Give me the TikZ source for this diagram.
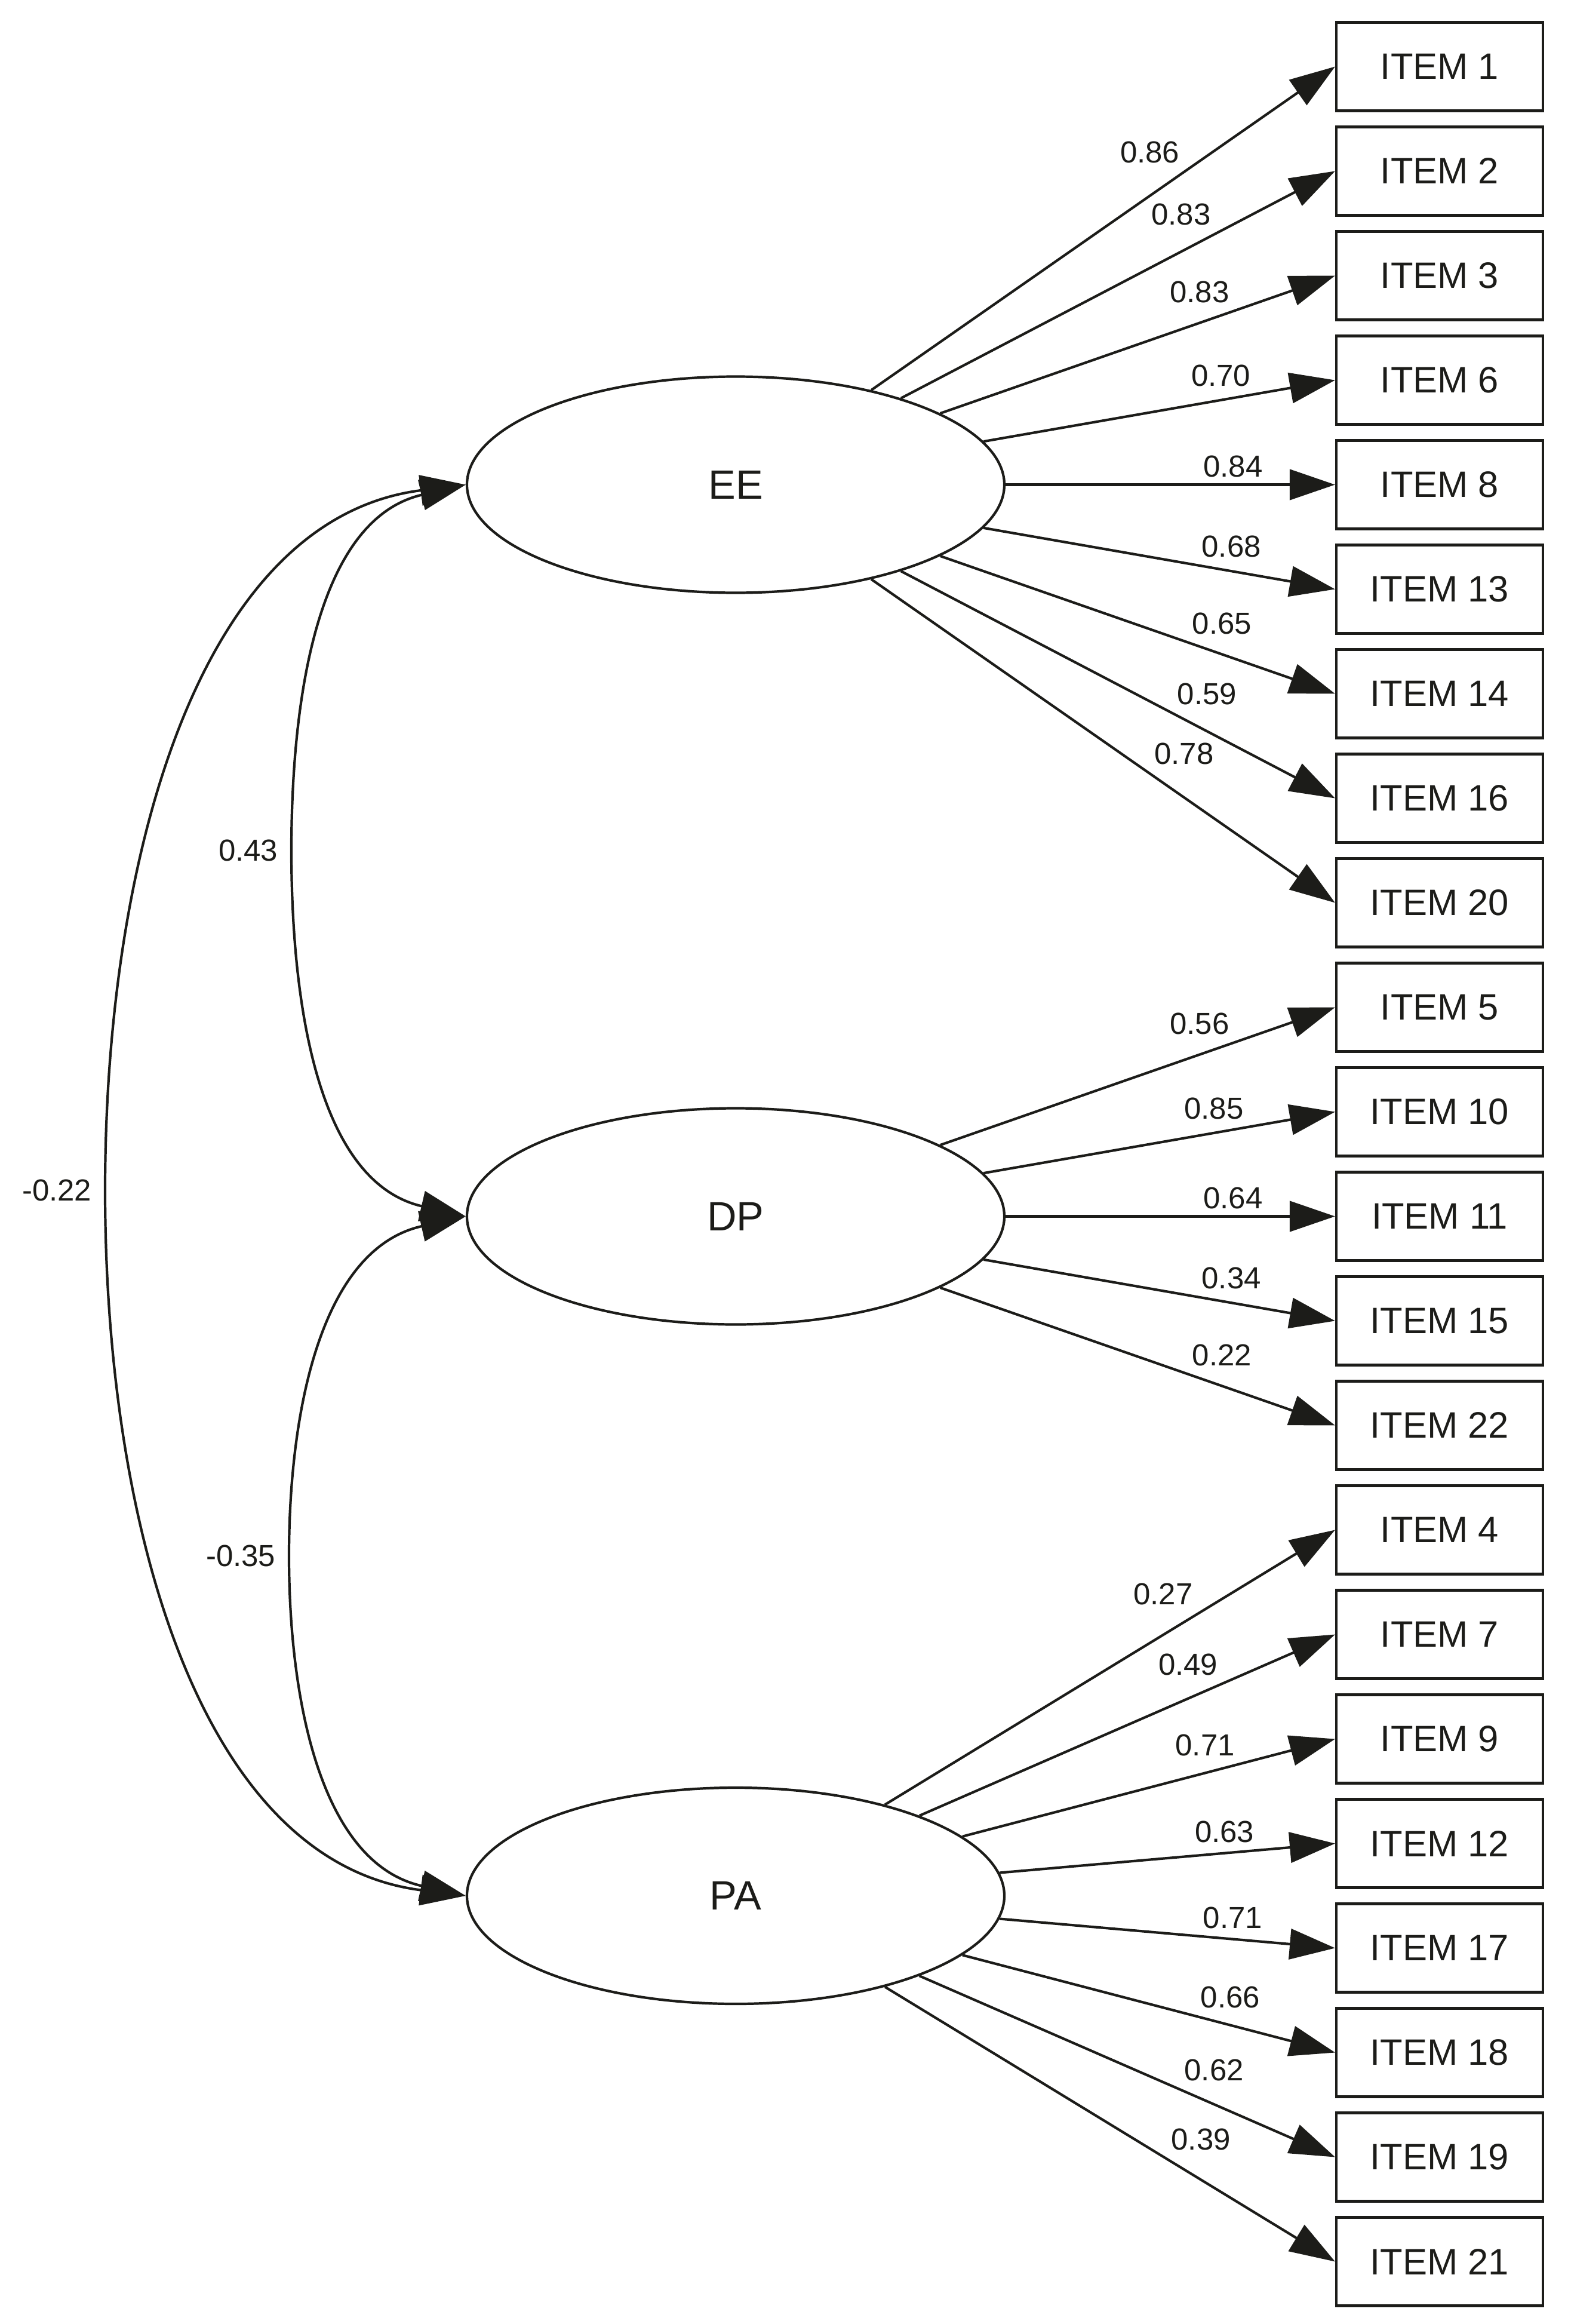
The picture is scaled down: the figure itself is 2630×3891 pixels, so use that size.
\documentclass[tikz,border=0pt]{standalone}
\usepackage{fontspec}
\setmainfont{Liberation Sans}
\usetikzlibrary{arrows.meta,shapes.geometric}
\definecolor{ink}{RGB}{28,28,25}
\tikzset{
  factor/.style={draw=ink, ellipse, line width=1.2pt, minimum width=90mm, minimum height=36.2mm, inner sep=0pt, text=ink, font=\fontsize{19.5}{22}\selectfont},
  item/.style={draw=ink, rectangle, line width=1.2pt, minimum width=34.6mm, minimum height=14.8mm, text=ink, font=\fontsize{17.5}{20}\selectfont},
  load/.style={draw=ink, line width=1.2pt, -{Triangle[length=7.6mm,width=5.1mm]}},
  cov/.style={draw=ink, line width=1.2pt, {Triangle[length=7.6mm,width=5.1mm]}-{Triangle[length=7.6mm,width=5.1mm]}},
  lbl/.style={text=ink, inner sep=1mm, font=\fontsize{14.5}{16}\selectfont},
  lu/.style={lbl, pos=0.71, anchor=south east},
  ld/.style={lbl, pos=0.62, anchor=south west},
  lh/.style={lbl, pos=0.69, anchor=south},
}
\begin{document}
\begin{tikzpicture}[x=0.1mm, y=-0.1mm]
    \useasboundingbox (0,0) rectangle (2630,3891);
    % factors
    \node[factor] (EE) at (1232,811.5) {EE};
    \node[factor] (DP) at (1232,2036.5) {DP};
    \node[factor] (PA) at (1232,3174) {PA};
    % items
    \node[item] (i1) at (2411,111.5) {ITEM 1};
    \node[item] (i2) at (2411,286.5) {ITEM 2};
    \node[item] (i3) at (2411,461.5) {ITEM 3};
    \node[item] (i6) at (2411,636.5) {ITEM 6};
    \node[item] (i8) at (2411,811.5) {ITEM 8};
    \node[item] (i13) at (2411,986.5) {ITEM 13};
    \node[item] (i14) at (2411,1161.5) {ITEM 14};
    \node[item] (i16) at (2411,1336.5) {ITEM 16};
    \node[item] (i20) at (2411,1511.5) {ITEM 20};
    \node[item] (i5) at (2411,1686.5) {ITEM 5};
    \node[item] (i10) at (2411,1861.5) {ITEM 10};
    \node[item] (i11) at (2411,2036.5) {ITEM 11};
    \node[item] (i15) at (2411,2211.5) {ITEM 15};
    \node[item] (i22) at (2411,2386.5) {ITEM 22};
    \node[item] (i4) at (2411,2561.5) {ITEM 4};
    \node[item] (i7) at (2411,2736.5) {ITEM 7};
    \node[item] (i9) at (2411,2911.5) {ITEM 9};
    \node[item] (i12) at (2411,3086.5) {ITEM 12};
    \node[item] (i17) at (2411,3261.5) {ITEM 17};
    \node[item] (i18) at (2411,3436.5) {ITEM 18};
    \node[item] (i19) at (2411,3611.5) {ITEM 19};
    \node[item] (i21) at (2411,3786.5) {ITEM 21};
    % loadings
    \draw[load] (EE) -- (i1.west) node[lu, pos=0.68] {0.86};
    \draw[load] (EE) -- (i2.west) node[lu, pos=0.73] {0.83};
    \draw[load] (EE) -- (i3.west) node[lu, pos=0.75] {0.83};
    \draw[load] (EE) -- (i6.west) node[lu, pos=0.78] {0.70};
    \draw[load] (EE) -- (i8.west) node[lh] {0.84};
    \draw[load] (EE) -- (i13.west) node[ld, pos=0.60] {0.68};
    \draw[load] (EE) -- (i14.west) node[ld] {0.65};
    \draw[load] (EE) -- (i16.west) node[ld] {0.59};
    \draw[load] (EE) -- (i20.west) node[ld, pos=0.595] {0.78};
    \draw[load] (DP) -- (i5.west) node[lu, pos=0.75] {0.56};
    \draw[load] (DP) -- (i10.west) node[lu, pos=0.76] {0.85};
    \draw[load] (DP) -- (i11.west) node[lh] {0.64};
    \draw[load] (DP) -- (i15.west) node[ld, pos=0.60] {0.34};
    \draw[load] (DP) -- (i22.west) node[ld] {0.22};
    \draw[load] (PA) -- (i4.west) node[lu, pos=0.70] {0.27};
    \draw[load] (PA) -- (i7.west) node[lu, pos=0.735] {0.49};
    \draw[load] (PA) -- (i9.west) node[lu, pos=0.75] {0.71};
    \draw[load] (PA) -- (i12.west) node[lu, pos=0.78] {0.63};
    \draw[load] (PA) -- (i17.west) node[ld, pos=0.585] {0.71};
    \draw[load] (PA) -- (i18.west) node[ld] {0.66};
    \draw[load] (PA) -- (i19.west) node[ld] {0.62};
    \draw[load] (PA) -- (i21.west) node[ld] {0.39};
    % covariances
    \coordinate (c43) at (488,1424);
    \coordinate (c35) at (484,2605);
    \coordinate (c22) at (176,1993);
    \draw[cov] (EE.west) .. controls +(-250,58) and +(0,-250) .. (c43) .. controls +(0,250) and +(-250,-58) .. (DP.west);
    \draw[cov] (DP.west) .. controls +(-245,55) and +(0,-235) .. (c35) .. controls +(0,235) and +(-245,-55) .. (PA.west);
    \draw[cov] (EE.west) .. controls +(-450,57) and +(0,-550) .. (c22) .. controls +(0,550) and +(-450,-57) .. (PA.west);
    \node[lbl, left=1.2mm] (w43) at (c43) {0.43};
    \node[lbl, left=1.2mm] (w35) at (c35) {-0.35};
    \node[lbl, left=1.2mm] (w22) at (c22) {-0.22};
\end{tikzpicture}
\end{document}
